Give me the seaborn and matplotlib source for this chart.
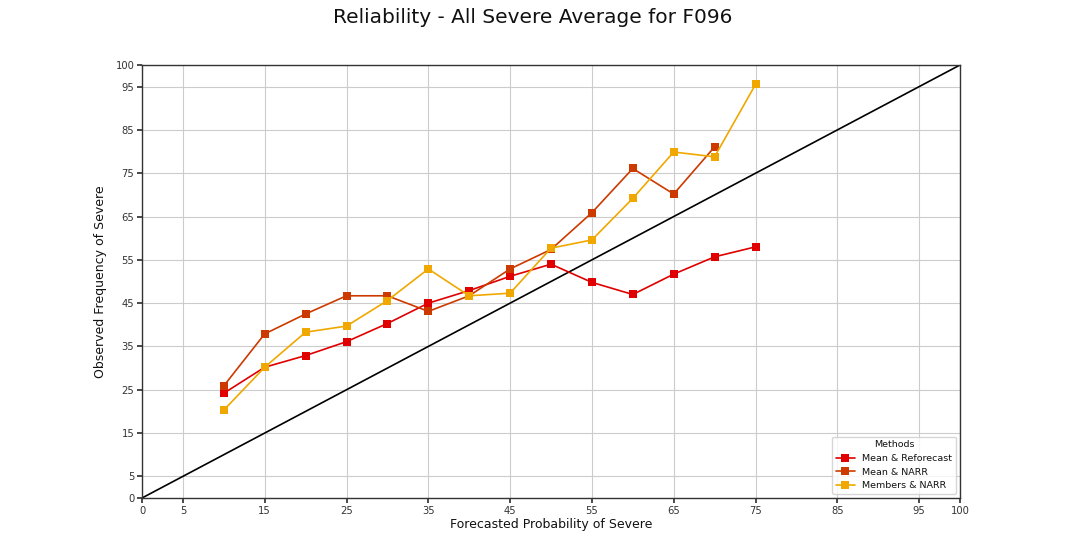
import numpy as np
import pandas as pd
import matplotlib
matplotlib.use("Agg")
import matplotlib.pyplot as plt
import seaborn as sns

# ---- data ----
prob_reforecast = [10, 15, 20, 25, 30, 35, 40, 45, 50, 55, 60, 65, 70, 75]
obs_reforecast = [24.2, 30.2, 32.9, 36.1, 40.3, 45.0, 47.9, 51.2, 54.0, 49.8, 47.0, 51.7, 55.7, 58.0]

prob_mean_narr = [10, 15, 20, 25, 30, 35, 40, 45, 50, 55, 60, 65, 70]
obs_mean_narr = [25.9, 37.9, 42.5, 46.7, 46.7, 43.1, 46.7, 52.9, 57.4, 65.9, 76.1, 70.2, 81.1]

prob_members_narr = [10, 15, 20, 25, 30, 35, 40, 45, 50, 55, 60, 65, 70, 75]
obs_members_narr = [20.3, 30.2, 38.3, 39.7, 45.6, 52.9, 46.7, 47.3, 57.7, 59.6, 69.2, 79.9, 78.8, 95.5]

methods = ["Mean & Reforecast", "Mean & NARR", "Members & NARR"]
colors = ["#E00000", "#CC3A00", "#F0A800"]
tick_values = [0, 5, 15, 25, 35, 45, 55, 65, 75, 85, 95, 100]
perfect = [0, 100]

title = "Reliability - All Severe Average for F096"
xlabel = "Forecasted Probability of Severe"
ylabel = "Observed Frequency of Severe"

# ---- long-form table ----
df = pd.concat([
    pd.DataFrame({"prob": prob_reforecast, "obs": obs_reforecast, "Methods": methods[0]}),
    pd.DataFrame({"prob": prob_mean_narr, "obs": obs_mean_narr, "Methods": methods[1]}),
    pd.DataFrame({"prob": prob_members_narr, "obs": obs_members_narr, "Methods": methods[2]}),
], ignore_index=True)

sns.set_theme(style="whitegrid", rc={
    "axes.edgecolor": "#333333",
    "axes.linewidth": 1.0,
    "grid.color": "#cccccc",
    "grid.linewidth": 0.8,
    "xtick.bottom": True,
    "ytick.left": True,
    "xtick.major.size": 3.5,
    "ytick.major.size": 3.5,
    "xtick.color": "#333333",
    "ytick.color": "#333333",
    "text.color": "#111111",
    "axes.labelcolor": "#111111",
})
plt.rcParams["font.family"] = ["DejaVu Sans"]

fig = plt.figure(figsize=(10.65, 5.33), dpi=100)
ax = fig.add_axes([142 / 1065, 1 - 498 / 533, (960 - 142) / 1065, (498 - 65) / 533])

ax.plot(perfect, perfect, color="black", linewidth=1.2, zorder=2)

sns.lineplot(data=df, x="prob", y="obs", hue="Methods", hue_order=methods,
             palette=colors, marker="s", markersize=5.5, markeredgewidth=0,
             linewidth=1.2, ax=ax, zorder=3)

ax.set_xlim(0, 100)
ax.set_ylim(0, 100)
ax.set_xticks(tick_values)
ax.set_yticks(tick_values)
ax.tick_params(axis="both", labelsize=7.2, pad=2)
ax.set_xlabel(xlabel, fontsize=9, labelpad=2)
ax.set_ylabel(ylabel, fontsize=9, labelpad=6)
for s in ax.spines.values():
    s.set_visible(True)
    s.set_color("#333333")

sns.move_legend(ax, "lower right", title="Methods", fontsize=6.8, title_fontsize=6.8,
                frameon=True, borderaxespad=0.4, handlelength=2.0)

fig.suptitle(title, fontsize=14.5, y=0.985)

fig.savefig("out.png", dpi=100)
